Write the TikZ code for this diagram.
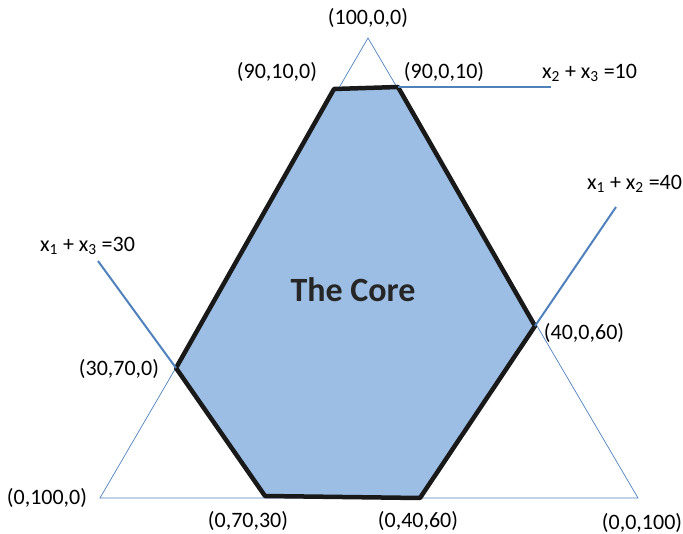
\documentclass[tikz,border=0pt]{standalone}
\usepackage{fontspec}
\setmainfont{Carlito}
\definecolor{coreblue}{RGB}{157,190,228}
\definecolor{lineblue}{RGB}{79,129,189}
\begin{document}
\begin{tikzpicture}[x=1pt,y=-1pt,
  lbl/.style={font=\fontsize{22}{25}\selectfont, inner sep=0pt},
  tri/.style={draw=lineblue, line width=0.7pt},
  cons/.style={draw=lineblue, line width=2pt},
  core/.style={draw=black!90, line width=4.5pt, fill=coreblue, line join=round}]
\useasboundingbox (0,0) rectangle (683,534);
% triangle vertices
\coordinate (T) at (368,38);
\coordinate (BL) at (100,498);
\coordinate (BR) at (638,498);
\draw[tri] (T) -- (BL) -- (BR) -- cycle;
% core vertices
\coordinate (A) at (334,89);
\coordinate (B) at (398,87);
\coordinate (C) at (535,326);
\coordinate (D) at (420,498);
\coordinate (E) at (265,496);
\coordinate (F) at (176,368);
\draw[core] (A) -- (B) -- (C) -- (D) -- (E) -- (F) -- cycle;
% constraint lines
\coordinate (L1) at (551,87);
\coordinate (L2) at (616,207);
\coordinate (L3) at (98,261);
\draw[cons] (B) -- (L1);
\draw[cons] (C) -- (L2);
\draw[cons] (F) -- (L3);
% labels
\node[lbl] (nT) at (368,18) {(100,0,0)};
\node[lbl] (nA) at (277,72) {(90,10,0)};
\node[lbl] (nB) at (444,72) {(90,0,10)};
\node[lbl, anchor=west] (c1) at (542,73) {x\textsubscript{2} + x\textsubscript{3} =10};
\node[lbl, anchor=west] (c2) at (587,184) {x\textsubscript{1} + x\textsubscript{2} =40};
\node[lbl, anchor=west] (c3) at (40,246) {x\textsubscript{1} + x\textsubscript{3} =30};
\node[lbl] (nF) at (119,369) {(30,70,0)};
\node[lbl] (nC) at (584,333) {(40,0,60)};
\node[lbl] (nBL) at (47,498) {(0,100,0)};
\node[lbl] (nE) at (248,521) {(0,70,30)};
\node[lbl] (nD) at (418,521) {(0,40,60)};
\node[lbl] (nBR) at (642,523) {(0,0,100)};
\node[font=\fontsize{34}{38}\selectfont\bfseries, text=black!85] (core) at (353,290) {The Core};
\end{tikzpicture}
\end{document}
